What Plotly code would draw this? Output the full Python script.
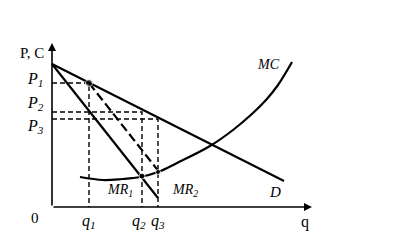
import plotly.graph_objects as go

# ---- data (in chart units; origin at the axes' corner) ----
D_x = [0, 232]
D_y = [143, 26]
MR1_x = [0, 106]
MR1_y = [143, 9]
MR2_x = [37, 108]
MR2_y = [124, 34]
MC_x = [28, 51, 70, 88, 106, 125, 158, 181, 201, 214, 226, 240]
MC_y = [30, 27, 28, 30, 35, 44, 61, 77, 94, 107, 122, 145]

q_vals = [37, 90, 106]          # q1, q2, q3
p_vals = [124, 95, 88]          # P1, P2, P3
q_labels = ["q<sub>1</sub>", "q<sub>2</sub>", "q<sub>3</sub>"]
p_labels = ["P<sub>1</sub>", "P<sub>2</sub>", "P<sub>3</sub>"]

SERIF = "Liberation Serif"
fig = go.Figure()

solid = dict(color="black", width=2.2)
fig.add_trace(go.Scatter(x=D_x, y=D_y, mode="lines", line=solid, hoverinfo="skip"))
fig.add_trace(go.Scatter(x=MR1_x, y=MR1_y, mode="lines", line=solid, hoverinfo="skip"))
fig.add_trace(go.Scatter(x=MR2_x, y=MR2_y, mode="lines",
                         line=dict(color="black", width=2.2, dash="9px,4px"), hoverinfo="skip"))
fig.add_trace(go.Scatter(x=MC_x, y=MC_y, mode="lines",
                         line=dict(color="black", width=2.2, shape="spline", smoothing=1.0),
                         hoverinfo="skip"))

# dashed guide lines
dash = dict(color="black", width=1.4, dash="5px,3px")
for q, p in zip(q_vals, p_vals):
    fig.add_trace(go.Scatter(x=[0, q, q], y=[p, p, 0], mode="lines", line=dash, hoverinfo="skip"))

# points
fig.add_trace(go.Scatter(x=[q_vals[0], q_vals[1], q_vals[2]],
                         y=[p_vals[0], 31, 35],
                         mode="markers", marker=dict(color="black", size=[7, 6, 5]),
                         hoverinfo="skip"))

# axes with arrows
fig.add_annotation(x=0, y=164, ax=0, ay=0, xref="x", yref="y", axref="x", ayref="y",
                   showarrow=True, arrowhead=2, arrowsize=1, arrowwidth=1.6, arrowcolor="black", text="")
fig.add_annotation(x=260, y=0, ax=0, ay=0, xref="x", yref="y", axref="x", ayref="y",
                   showarrow=True, arrowhead=2, arrowsize=1, arrowwidth=1.6, arrowcolor="black", text="")

def label(x, y, text, size=16, italic=True):
    fig.add_annotation(x=x, y=y, text=(f"<i>{text}</i>" if italic else text),
                       showarrow=False, xref="x", yref="y",
                       font=dict(family=SERIF, size=size, color="black"))

label(-20, 154, "P, C", size=15, italic=False)
label(-17, 128, p_labels[0])
label(-17, 104, p_labels[1])
label(-17, 81, p_labels[2])
label(-17, -11, "0", size=15, italic=False)
for q, t in zip([37, 87, 106], q_labels):
    label(q, -14, t)
label(253, -15, "q", size=16, italic=False)
label(216, 143, "MC", size=14)
label(223, 15, "D", size=15)
label(68, 17, "MR<sub>1</sub>", size=14)
label(133, 17, "MR<sub>2</sub>", size=14)

fig.update_layout(
    width=401, height=247, margin=dict(l=0, r=0, t=0, b=0),
    paper_bgcolor="white", plot_bgcolor="white", showlegend=False,
    xaxis=dict(range=[-52, 349], visible=False, fixedrange=True),
    yaxis=dict(range=[-40, 207], visible=False, fixedrange=True),
)
fig.write_html("out.html")
